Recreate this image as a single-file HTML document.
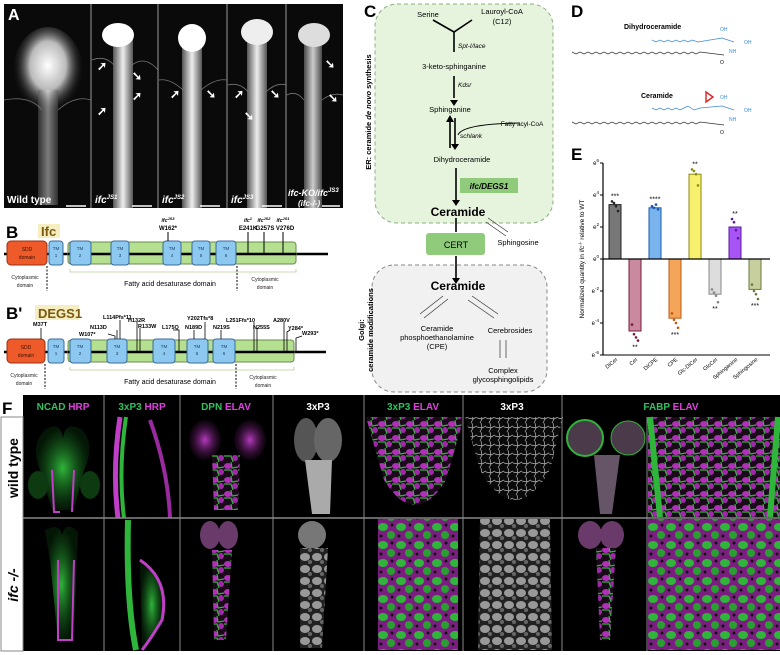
<!DOCTYPE html>
<html><head><meta charset="utf-8">
<style>
html,body{margin:0;padding:0;background:#fff;}
svg{display:block;font-family:"Liberation Sans",sans-serif;}
</style></head>
<body>
<svg id="fig" width="780" height="655" viewBox="0 0 780 655">
<defs>
<radialGradient id="glow" cx="50%" cy="40%" r="50%"><stop offset="0" stop-color="#fff"/><stop offset="0.5" stop-color="#bbb"/><stop offset="1" stop-color="#111" stop-opacity="0"/></radialGradient>
<linearGradient id="cord" x1="0" y1="0" x2="1" y2="0"><stop offset="0" stop-color="#555"/><stop offset="0.5" stop-color="#eee"/><stop offset="1" stop-color="#555"/></linearGradient>
<radialGradient id="gglow" cx="50%" cy="50%" r="50%"><stop offset="0" stop-color="#2fb53a"/><stop offset="1" stop-color="#0e4a14" stop-opacity="0.3"/></radialGradient>
<radialGradient id="mglow" cx="50%" cy="50%" r="50%"><stop offset="0" stop-color="#b83ac0"/><stop offset="1" stop-color="#401040" stop-opacity="0.2"/></radialGradient>
<pattern id="mix" width="14" height="14" patternUnits="userSpaceOnUse"><rect width="14" height="14" fill="#1a0a1a"/><ellipse cx="4" cy="4" rx="4" ry="3" fill="#b030b8"/><ellipse cx="11" cy="10" rx="3" ry="3" fill="#a028a8"/><path d="M0 8 L7 8 L9 14 M7 0 L8 6 L14 5" stroke="#2fb53a" stroke-width="1.2" fill="none"/></pattern>
<pattern id="mix2" width="18" height="18" patternUnits="userSpaceOnUse"><rect width="18" height="18" fill="#7a1f80"/><ellipse cx="5" cy="5" rx="5" ry="4" fill="#2fb53a"/><ellipse cx="13" cy="13" rx="4" ry="4" fill="#28a030"/><circle cx="14" cy="3" r="1.5" fill="#111"/><circle cx="3" cy="14" r="1.5" fill="#111"/></pattern>
<pattern id="grey" width="12" height="12" patternUnits="userSpaceOnUse"><rect width="12" height="12" fill="#222"/><ellipse cx="5" cy="5" rx="5" ry="4" fill="#999"/><circle cx="10" cy="10" r="2" fill="#666"/></pattern>
<pattern id="net" width="9" height="9" patternUnits="userSpaceOnUse"><rect width="9" height="9" fill="#0a0a0a"/><path d="M0 4 L5 5 L9 3 M4 0 L5 5 L3 9" stroke="#bbb" stroke-width="0.7" fill="none"/></pattern>
</defs>

<g>
<rect x="4" y="4" width="339" height="204" fill="#0a0a0a"/>
<g>
<ellipse cx="48" cy="75" rx="36" ry="48" fill="url(#glow)"/>
<rect x="38" y="90" width="20" height="115" fill="url(#cord)" opacity="0.5"/>
<rect x="113" y="30" width="20" height="178" fill="url(#cord)"/><ellipse cx="118" cy="35" rx="16" ry="12" fill="#fff"/>
<rect x="182" y="30" width="20" height="178" fill="url(#cord)"/><ellipse cx="192" cy="38" rx="14" ry="14" fill="#fff"/>
<rect x="247" y="30" width="20" height="178" fill="url(#cord)"/><ellipse cx="257" cy="32" rx="16" ry="13" fill="#eee"/>
<rect x="304" y="35" width="18" height="173" fill="url(#cord)" opacity="0.85"/><ellipse cx="314" cy="35" rx="16" ry="12" fill="#ddd"/>
</g>
<g stroke="#999" stroke-width="1"><line x1="91" y1="4" x2="91" y2="208"/><line x1="158" y1="4" x2="158" y2="208"/><line x1="227" y1="4" x2="227" y2="208"/><line x1="286" y1="4" x2="286" y2="208"/></g>
<text x="8" y="20" font-size="16" font-weight="bold" fill="#fff">A</text>
<g font-size="10" font-weight="bold" fill="#fff">
<text x="7" y="203">Wild type</text>
<text x="95" y="203" font-style="italic">ifc<tspan font-size="6" dy="-4">JS1</tspan></text>
<text x="162" y="203" font-style="italic">ifc<tspan font-size="6" dy="-4">JS2</tspan></text>
<text x="231" y="203" font-style="italic">ifc<tspan font-size="6" dy="-4">JS3</tspan></text>
<text x="288" y="196" font-size="9" font-style="italic">ifc-KO/ifc<tspan font-size="6" dy="-4">JS3</tspan></text>
<text x="298" y="206" font-size="8" font-style="italic">(ifc-/-)</text>
</g>
<g stroke="#fff" stroke-width="1.5"><line x1="66" y1="206" x2="86" y2="206"/><line x1="132" y1="206" x2="152" y2="206"/><line x1="200" y1="206" x2="220" y2="206"/><line x1="262" y1="206" x2="282" y2="206"/><line x1="322" y1="206" x2="340" y2="206"/></g>
<g stroke="#777" stroke-width="0.8" fill="none">
<path d="M4 100 Q30 95 42 110 M58 110 Q75 95 91 100 M92 60 Q105 55 114 65 M132 65 Q145 55 158 70 M159 80 Q170 78 183 90 M201 90 Q215 78 227 80 M228 85 Q240 82 248 92 M266 92 Q276 82 286 85 M287 95 Q296 90 304 100 M322 100 Q332 92 343 95"/>
</g>
<g fill="#fff" font-size="12" font-weight="bold">
<text x="97" y="70">➚</text><text x="132" y="80">➘</text><text x="97" y="115">➚</text><text x="132" y="100">➚</text>
<text x="170" y="98">➚</text><text x="206" y="98">➘</text><text x="234" y="98">➚</text><text x="270" y="98">➘</text><text x="244" y="120">➘</text><text x="325" y="68">➘</text><text x="328" y="102">➘</text>
</g>
</g>

<g>
<text x="6" y="238" font-size="17" font-weight="bold">B</text>
<rect x="38" y="224" width="22" height="14" fill="#f6edc0"/>
<text x="41" y="236" font-size="13" font-weight="bold" fill="#7a5a10">Ifc</text>
<line x1="4" y1="254" x2="328" y2="254" stroke="#000" stroke-width="2.5"/>
<rect x="68" y="242" width="228" height="22" rx="3" fill="#b5e08f" stroke="#6a8a50"/>
<line x1="68" y1="254" x2="296" y2="254" stroke="#000" stroke-width="2.5"/>
<rect x="7" y="241" width="40" height="24" rx="4" fill="#ee5a2a" stroke="#9a3010"/>
<text x="27" y="251" font-size="5" text-anchor="middle" fill="#3a1000">SDD</text><text x="27" y="259" font-size="5" text-anchor="middle" fill="#3a1000">domain</text>
<g fill="#8cc8f0" stroke="#3a6a9a">
<rect x="49" y="241" width="14" height="24" rx="3"/><rect x="70" y="241" width="21" height="24" rx="3"/><rect x="111" y="241" width="18" height="24" rx="3"/><rect x="163" y="241" width="18" height="24" rx="3"/><rect x="192" y="241" width="18" height="24" rx="3"/><rect x="216" y="241" width="20" height="24" rx="3"/>
</g>
<g font-size="4.5" text-anchor="middle" fill="#1a3a5a">
<text x="56" y="250">TM</text><text x="56" y="257">1</text><text x="80" y="250">TM</text><text x="80" y="257">2</text><text x="120" y="250">TM</text><text x="120" y="257">3</text><text x="172" y="250">TM</text><text x="172" y="257">4</text><text x="201" y="250">TM</text><text x="201" y="257">5</text><text x="226" y="250">TM</text><text x="226" y="257">6</text>
</g>
<g stroke="#000" stroke-width="1"><line x1="168" y1="232" x2="168" y2="241"/><line x1="248" y1="232" x2="248" y2="254"/><line x1="264" y1="232" x2="264" y2="254"/><line x1="283" y1="232" x2="283" y2="254"/></g>
<g font-size="6" font-weight="bold" text-anchor="middle">
<text x="168" y="222" font-style="italic" font-size="5">ifc<tspan font-size="4" dy="-2">JS3</tspan></text><text x="168" y="230">W162*</text>
<text x="248" y="222" font-style="italic" font-size="5">ifc<tspan font-size="4" dy="-2">1</tspan></text><text x="248" y="230">E241K</text>
<text x="264" y="222" font-style="italic" font-size="5">ifc<tspan font-size="4" dy="-2">JS2</tspan></text><text x="265" y="230">G257S</text>
<text x="283" y="222" font-style="italic" font-size="5">ifc<tspan font-size="4" dy="-2">JS1</tspan></text><text x="285" y="230">V276D</text>
</g>
<g stroke="#000" stroke-dasharray="2,1.5" stroke-width="1"><line x1="47" y1="266" x2="47" y2="291"/><line x1="237" y1="266" x2="237" y2="291"/></g>
<path d="M70 269 L70 272 L296 272 L296 269" fill="none" stroke="#b5d09a" stroke-width="0.8"/>
<g font-size="5" text-anchor="middle" fill="#222"><text x="25" y="279">Cytoplasmic</text><text x="25" y="287">domain</text><text x="265" y="281">Cytoplasmic</text><text x="265" y="289">domain</text></g>
<text x="170" y="286" font-size="7" text-anchor="middle">Fatty acid desaturase domain</text>
</g>

<g>
<text x="6" y="319" font-size="17" font-weight="bold">B'</text>
<rect x="35" y="305" width="44" height="15" fill="#f6edc0"/>
<text x="38" y="318" font-size="13" font-weight="bold" fill="#7a5a10">DEGS1</text>
<line x1="4" y1="352" x2="326" y2="352" stroke="#000" stroke-width="2.5"/>
<rect x="68" y="340" width="226" height="22" rx="3" fill="#b5e08f" stroke="#6a8a50"/>
<line x1="68" y1="352" x2="294" y2="352" stroke="#000" stroke-width="2.5"/>
<rect x="7" y="339" width="38" height="24" rx="4" fill="#ee5a2a" stroke="#9a3010"/>
<text x="26" y="349" font-size="5" text-anchor="middle" fill="#3a1000">SDD</text><text x="26" y="357" font-size="5" text-anchor="middle" fill="#3a1000">domain</text>
<g fill="#8cc8f0" stroke="#3a6a9a">
<rect x="48" y="339" width="16" height="24" rx="3"/><rect x="70" y="339" width="21" height="24" rx="3"/><rect x="107" y="339" width="20" height="24" rx="3"/><rect x="153" y="339" width="22" height="24" rx="3"/><rect x="187" y="339" width="21" height="24" rx="3"/><rect x="213" y="339" width="22" height="24" rx="3"/>
</g>
<g font-size="4.5" text-anchor="middle" fill="#1a3a5a">
<text x="56" y="348">TM</text><text x="56" y="355">1</text><text x="80" y="348">TM</text><text x="80" y="355">2</text><text x="117" y="348">TM</text><text x="117" y="355">3</text><text x="164" y="348">TM</text><text x="164" y="355">4</text><text x="197" y="348">TM</text><text x="197" y="355">5</text><text x="224" y="348">TM</text><text x="224" y="355">6</text>
</g>
<g stroke="#000" stroke-width="0.8" fill="none">
<line x1="41" y1="328" x2="41" y2="339"/><path d="M108 334 L115 336 L115 339"/><line x1="117" y1="330" x2="117" y2="339"/><line x1="120" y1="320" x2="120" y2="339"/>
<line x1="137" y1="322" x2="137" y2="352"/><line x1="140" y1="328" x2="140" y2="352"/><path d="M173 330 L179 330 L179 352"/><line x1="194" y1="330" x2="194" y2="339"/><line x1="205" y1="322" x2="205" y2="339"/><line x1="221" y1="330" x2="221" y2="339"/>
<line x1="254" y1="322" x2="254" y2="352"/><line x1="257" y1="328" x2="257" y2="352"/><line x1="284" y1="322" x2="284" y2="352"/><path d="M290 330 L287 332 L287 352"/><path d="M302 336 L296 338 L296 352"/>
</g>
<g font-size="5.5" font-weight="bold">
<text x="33" y="326">M37T</text><text x="79" y="336">W107*</text><text x="90" y="329">N113D</text><text x="103" y="319">L114Pfs*11</text><text x="128" y="322">H132R</text><text x="138" y="328">R133W</text><text x="162" y="329">L175Q</text><text x="185" y="329">N189D</text><text x="187" y="320">Y202Tfs*8</text><text x="213" y="329">N219S</text><text x="226" y="322">L251Ffs*10</text><text x="253" y="329">N255S</text><text x="273" y="322">A280V</text><text x="288" y="330">Y284*</text><text x="302" y="335">W293*</text>
</g>
<g stroke="#000" stroke-dasharray="2,1.5" stroke-width="1"><line x1="45" y1="364" x2="45" y2="389"/><line x1="236" y1="364" x2="236" y2="389"/></g>
<path d="M70 367 L70 370 L294 370 L294 367" fill="none" stroke="#b5d09a" stroke-width="0.8"/>
<g font-size="5" text-anchor="middle" fill="#222"><text x="24" y="377">Cytoplasmic</text><text x="24" y="385">domain</text><text x="263" y="379">Cytoplasmic</text><text x="263" y="387">domain</text></g>
<text x="170" y="384" font-size="7" text-anchor="middle">Fatty acid desaturase domain</text>
</g>

<g>
<text x="364" y="17" font-size="17" font-weight="bold">C</text>
<rect x="375" y="4" width="178" height="219" rx="22" fill="#e6f3dd" stroke="#8ab080" stroke-dasharray="4,3"/>
<rect x="372" y="265" width="175" height="127" rx="22" fill="#f1f1f1" stroke="#888" stroke-dasharray="4,3"/>
<text transform="translate(371,112) rotate(-90)" font-size="7.5" font-weight="bold" text-anchor="middle">ER: ceramide <tspan font-style="italic">de novo</tspan> synthesis</text>
<text transform="translate(364,330) rotate(-90)" font-size="7.5" font-weight="bold" text-anchor="middle">Golgi:</text>
<text transform="translate(373,330) rotate(-90)" font-size="7.5" font-weight="bold" text-anchor="middle">ceramide modifications</text>
<g font-size="7.5" text-anchor="middle">
<text x="428" y="17">Serine</text><text x="502" y="14">Lauroyl-CoA</text><text x="502" y="24">(C12)</text>
<text x="454" y="69">3-keto-sphinganine</text><text x="450" y="112">Sphinganine</text><text x="462" y="162">Dihydroceramide</text>
<text x="437" y="331">Ceramide</text><text x="437" y="340">phosphoethanolamine</text><text x="437" y="349">(CPE)</text>
<text x="510" y="333">Cerebrosides</text><text x="503" y="373">Complex</text><text x="503" y="382">glycosphingolipids</text>
<text x="518" y="245">Sphingosine</text><text x="522" y="126" font-size="6.5">Fatty acyl-CoA</text>
</g>
<g font-size="6.5" font-style="italic"><text x="458" y="48">Spt-I/lace</text><text x="458" y="87">Kdsr</text><text x="460" y="138">schlank</text></g>
<path d="M433 20 L454 32 L472 20 M454 32 L454 52" stroke="#000" stroke-width="1.6" fill="none"/>
<g stroke="#000" stroke-width="1.6" fill="none">
<line x1="454" y1="76" x2="454" y2="98"/><line x1="450" y1="118" x2="450" y2="148"/><line x1="455" y1="118" x2="455" y2="148"/><line x1="456" y1="168" x2="456" y2="200"/><line x1="456" y1="218" x2="456" y2="232"/><line x1="456" y1="256" x2="456" y2="278"/>
<path d="M458 135 Q462 124 520 123" stroke-width="1"/>
</g>
<g fill="#000"><path d="M450 100 L458 100 L454 106Z"/><path d="M446 122 L454 122 L450 115Z"/><path d="M451 144 L459 144 L455 150Z"/><path d="M452 200 L460 200 L456 206Z"/><path d="M452 278 L460 278 L456 284Z"/></g>
<rect x="460" y="178" width="58" height="15" fill="#8fcb7a"/>
<text x="489" y="189" font-size="8" font-weight="bold" font-style="italic" text-anchor="middle">ifc/DEGS1</text>
<text x="458" y="216" font-size="12" font-weight="bold" text-anchor="middle">Ceramide</text>
<rect x="426" y="233" width="59" height="22" rx="3" fill="#8fcb7a"/>
<text x="456" y="248" font-size="9" text-anchor="middle">CERT</text>
<text x="458" y="290" font-size="12" font-weight="bold" text-anchor="middle">Ceramide</text>
<g stroke="#333" stroke-width="0.7" fill="none">
<line x1="488" y1="218" x2="508" y2="232"/><line x1="486" y1="222" x2="506" y2="236"/>
<line x1="443" y1="296" x2="420" y2="314"/><line x1="448" y1="299" x2="424" y2="318"/>
<line x1="472" y1="296" x2="498" y2="314"/><line x1="468" y1="300" x2="494" y2="318"/>
<line x1="500" y1="340" x2="500" y2="358"/><line x1="506" y1="340" x2="506" y2="358"/>
</g>
</g>

<g>
<text x="571" y="17" font-size="17" font-weight="bold">D</text>
<text x="624" y="29" font-size="7" font-weight="bold">Dihydroceramide</text>
<text x="641" y="98" font-size="7" font-weight="bold">Ceramide</text>
<polyline fill="none" stroke="#333" stroke-width="0.7" points="572,52 576,54 580,52 584,54 588,52 592,54 596,52 600,54 604,52 608,54 612,52 616,54 620,52 624,54 628,52 632,54 636,52 640,54 644,52 648,54 652,52 656,54 660,52 664,54 668,52 672,54 676,52 680,54 684,52 688,54 692,52 696,54 700,52 724,55"/>
<polyline fill="none" stroke="#3a8ad8" stroke-width="0.7" points="652,40 656,42 660,40 664,42 668,40 672,42 676,40 680,42 684,40 688,42 692,40 698,42 722,38 734,42"/>
<polyline fill="none" stroke="#333" stroke-width="0.7" points="572,122 576,124 580,122 584,124 588,122 592,124 596,122 600,124 604,122 608,124 612,122 616,124 620,122 624,124 628,122 632,124 636,122 640,124 644,122 648,124 652,122 656,124 660,122 664,124 668,122 672,124 676,122 680,124 684,122 688,124 692,122 696,124 700,122 724,125"/>
<polyline fill="none" stroke="#3a8ad8" stroke-width="0.7" points="652,108 656,110 660,108 664,110 668,108 672,110 676,108 680,110 684,108 688,106 694,110 700,108 722,106 734,110"/>
<path d="M706 92 L713 97 L706 102Z" fill="none" stroke="#e02020" stroke-width="1.4"/>
<g font-size="5" fill="#3a8ad8"><text x="720" y="31">OH</text><text x="744" y="44">OH</text><text x="729" y="53">NH</text><text x="720" y="99">OH</text><text x="744" y="112">OH</text><text x="729" y="121">NH</text></g>
<g font-size="5"><text x="720" y="64">O</text><text x="720" y="134">O</text></g>
</g>

<g id="chartE">
<text x="571" y="160" font-size="17" font-weight="bold">E</text>
<text transform="translate(584,259) rotate(-90)" font-size="6.5" text-anchor="middle">Normalized quantity in <tspan font-style="italic">ifc</tspan><tspan font-size="4.5" dy="-2">-/-</tspan><tspan dy="2"> relative to WT</tspan></text>
</g>

<g>
<text x="2" y="414" font-size="17" font-weight="bold">F</text>
<rect x="23" y="395" width="757" height="22" fill="#000"/>
<rect x="23" y="417" width="757" height="234" fill="#000"/>
<g>
<path d="M45 430 Q60 420 63 438 Q66 420 82 430 Q96 445 84 470 L74 510 L52 510 L40 470 Q30 445 45 430Z" fill="url(#gglow)"/>
<ellipse cx="38" cy="485" rx="10" ry="14" fill="#0e3a12"/><ellipse cx="90" cy="485" rx="10" ry="14" fill="#0e3a12"/>
<path d="M52 470 L54 512 L60 512 M74 470 L72 512" stroke="#c03ec8" stroke-width="2" fill="none"/>
<path d="M120 417 Q112 470 118 518" stroke="#c03ec8" stroke-width="5" fill="none"/><path d="M126 417 Q118 470 124 518" stroke="#2fb53a" stroke-width="4" fill="none"/><path d="M150 420 Q168 470 170 518" stroke="#9a2aa0" stroke-width="4" fill="none"/>
<ellipse cx="205" cy="440" rx="16" ry="20" fill="url(#mglow)"/><ellipse cx="250" cy="440" rx="16" ry="20" fill="url(#mglow)"/><path d="M212 455 L240 455 L238 510 L214 510Z" fill="url(#mix)"/>
<ellipse cx="306" cy="440" rx="12" ry="22" fill="#555"/><ellipse cx="328" cy="440" rx="14" ry="22" fill="#666"/><path d="M305 460 L332 460 L330 514 L312 514Z" fill="#aaa"/>
<path d="M366 417 L464 417 L446 480 Q415 530 384 480Z" fill="url(#mix)"/>
<path d="M465 417 L563 417 L550 470 Q515 530 480 470Z" fill="url(#net)"/>
<circle cx="585" cy="438" r="18" fill="#4a3a4a" stroke="#2fb53a" stroke-width="2"/><circle cx="628" cy="438" r="17" fill="#4a3a4a" stroke="#2fb53a"/><path d="M594 455 L620 455 L612 514 L600 514Z" fill="#665566"/>
<rect x="648" y="417" width="132" height="100" fill="url(#mix)"/>
<path d="M650 417 L660 517 M778 417 L770 517" stroke="#2fb53a" stroke-width="6"/>
</g>
<g>
<path d="M45 530 Q60 522 62 535 Q66 520 78 532 L74 640 L58 642 L50 560Z" fill="url(#gglow)"/>
<path d="M58 560 L58 640 L72 640 L74 560" stroke="#c03ec8" stroke-width="2" fill="none"/>
<path d="M128 520 Q126 600 136 650" stroke="#2fb53a" stroke-width="6" fill="none"/><path d="M140 560 Q170 580 162 620 Q150 640 142 650" stroke="#c03ec8" stroke-width="3" fill="url(#gglow)"/>
<ellipse cx="210" cy="535" rx="10" ry="14" fill="#6a3a6a"/><ellipse cx="228" cy="535" rx="10" ry="14" fill="#6a3a6a"/><path d="M212 550 L232 550 L226 640 L214 640Z" fill="url(#mix)"/>
<ellipse cx="312" cy="535" rx="14" ry="14" fill="#777"/><path d="M300 548 L328 548 L322 648 L300 648Z" fill="url(#grey)"/>
<rect x="378" y="519" width="80" height="131" fill="url(#mix2)"/>
<path d="M480 519 L550 519 L552 650 L478 650Z" fill="url(#grey)"/>
<ellipse cx="590" cy="535" rx="12" ry="14" fill="#6a3a6a"/><ellipse cx="612" cy="535" rx="12" ry="14" fill="#6a3a6a"/><path d="M596 548 L616 548 L610 640 L600 640Z" fill="url(#mix)"/>
<rect x="648" y="519" width="132" height="131" fill="url(#mix2)"/>
</g>
<g stroke="#888" stroke-width="1">
<line x1="23" y1="518" x2="780" y2="518" stroke-width="1.5"/>
<line x1="104" y1="395" x2="104" y2="651"/><line x1="180" y1="395" x2="180" y2="651"/><line x1="273" y1="395" x2="273" y2="651"/><line x1="364" y1="395" x2="364" y2="651"/><line x1="463" y1="395" x2="463" y2="651"/><line x1="562" y1="395" x2="562" y2="651"/><line x1="647" y1="417" x2="647" y2="651"/>
<rect x="1" y="417" width="22" height="234" fill="#fff" stroke="#888"/>
</g>
<g font-size="10" font-weight="bold" text-anchor="middle">
<text x="63" y="410"><tspan fill="#2fc060">NCAD</tspan> <tspan fill="#e040e0">HRP</tspan></text>
<text x="142" y="410"><tspan fill="#2fc060">3xP3</tspan> <tspan fill="#e040e0">HRP</tspan></text>
<text x="226" y="410"><tspan fill="#2fc060">DPN</tspan> <tspan fill="#e040e0">ELAV</tspan></text>
<text x="318" y="410" fill="#fff">3xP3</text>
<text x="413" y="410"><tspan fill="#2fc060">3xP3</tspan> <tspan fill="#e040e0">ELAV</tspan></text>
<text x="512" y="410" fill="#fff">3xP3</text>
<text x="671" y="410"><tspan fill="#2fc060">FABP</tspan> <tspan fill="#e040e0">ELAV</tspan></text>
</g>
<text transform="translate(18,468) rotate(-90)" font-size="14" font-weight="bold" text-anchor="middle">wild type</text>
<text transform="translate(18,585) rotate(-90)" font-size="14" font-weight="bold" font-style="italic" text-anchor="middle">ifc -/-</text>
</g>
</svg>
<script>
const categories = ["DiCer","Cer","DiCPE","CPE","Glc-DiCer","GlcCer","Sphinganine","Sphingosine"];
const values = [3.4, -4.5, 3.2, -3.7, 5.3, -2.2, 2.0, -1.9];
const points = [[3.6,3.5,3.3,3.0],[-4.1,-4.7,-4.9,-5.1],[3.3,3.2,3.4,3.1],[-3.4,-3.8,-4.0,-4.3],[5.6,5.5,5.3,4.6],[-1.9,-2.1,-2.3,-2.7],[2.5,2.3,1.8,1.3],[-1.6,-2.0,-2.2,-2.5]];
const stars = ["***","**","****","***","**","**","**","***"];
const colors = ["#777777","#c98aa0","#7ab4ef","#f5a55a","#f6f06e","#dddddd","#a855f7","#c8cf9e"];
const borders = ["#222","#7a1a3a","#1a5ab0","#c05a10","#8a8a10","#888","#5a1a9a","#6a7a40"];
const yTicks = [6,4,2,0,-2,-4,-6];
const NS="http://www.w3.org/2000/svg";
const g=document.getElementById('chartE');
const X0=603, X1=770, Y0=259, PER=16;
function yS(v){return Y0 - v*PER;}
function xS(i){return 615 + i*20;}
function mk(tag,attrs){const e=document.createElementNS(NS,tag);for(const k in attrs)e.setAttribute(k,attrs[k]);g.appendChild(e);return e;}
let ax=mk('line',{x1:X0,y1:yS(6),x2:X0,y2:yS(-6),stroke:'#000','stroke-width':1.2});


yTicks.forEach(t=>{
  let tk=mk('line',{x1:X0-3,y1:yS(t),x2:X0,y2:yS(t),stroke:'#000'});
  
  
  let tx=mk('text',{x:X0-4,y:yS(t)+2,'font-size':6,'text-anchor':'end'});
  
  
  tx.innerHTML='e<tspan font-size="4.5" dy="-3">'+t+'</tspan>';
});
values.forEach((v,i)=>{
  const cx=xS(i), w=12;
  let b=mk('rect',{x:cx-w/2,y:Math.min(yS(v),Y0),width:w,height:Math.abs(yS(v)-Y0),fill:colors[i],stroke:borders[i],'stroke-width':1});
  
  
  points[i].forEach((p,j)=>{
    let c=mk('circle',{cx:cx-3+j*2,cy:yS(p),r:1.3,fill:borders[i]});
    
    
  });
  const ext = v>0 ? Math.max(...points[i]) : Math.min(...points[i]);
  let s=mk('text',{x:cx,y: v>0 ? yS(ext)-3 : yS(ext)+9,'font-size':7,'text-anchor':'middle'});
  
  
  s.textContent=stars[i];
  let lb=mk('text',{transform:'translate('+(cx+3)+','+(Y0+101)+') rotate(-40)','font-size':5.5,'text-anchor':'end'});
  
  
  lb.textContent=categories[i];
});
let xa=mk('line',{x1:X0,y1:Y0,x2:X1,y2:Y0,stroke:'#000','stroke-width':1.2});


let xb=mk('line',{x1:X0,y1:yS(-6),x2:X1,y2:yS(-6),stroke:'#000','stroke-width':1});


</script>
</body></html>
